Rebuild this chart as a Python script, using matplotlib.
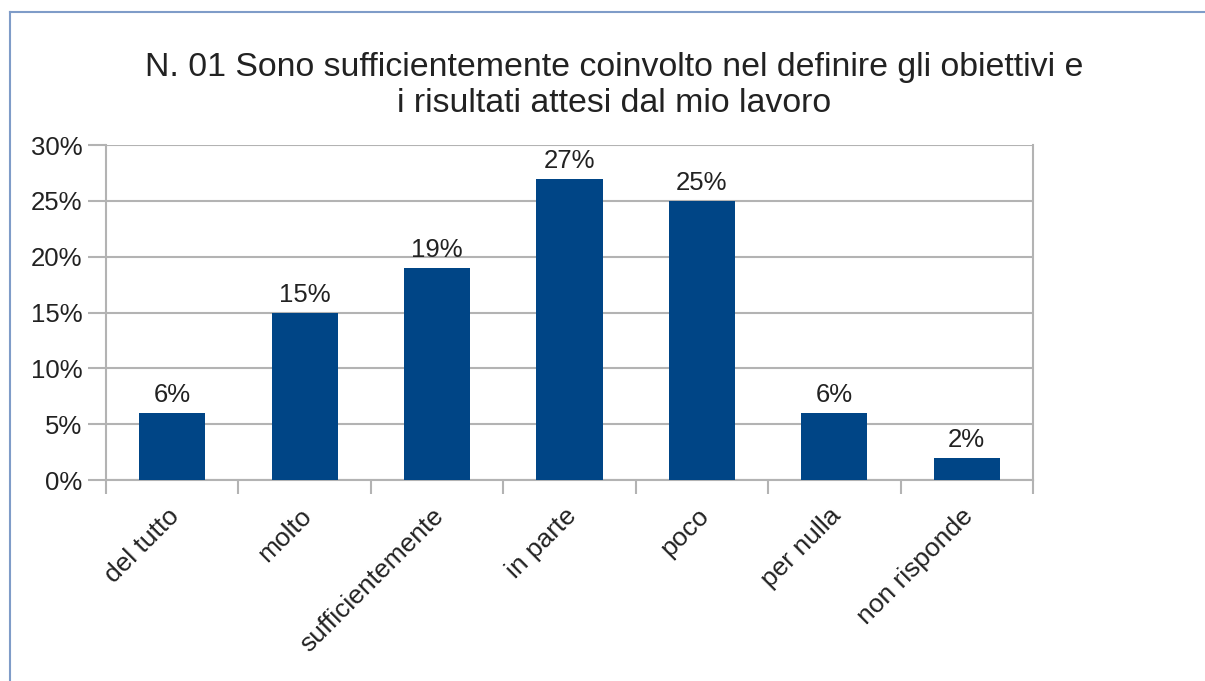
import matplotlib.pyplot as plt
import matplotlib.ticker as ticker
from matplotlib.lines import Line2D

categories = ["del tutto", "molto", "sufficientemente", "in parte", "poco", "per nulla", "non risponde"]
values = [6, 15, 19, 27, 25, 6, 2]
title = "N. 01 Sono sufficientemente coinvolto nel definire gli obiettivi e\ni risultati attesi dal mio lavoro"

plt.rcParams['font.family'] = ['Liberation Sans', 'DejaVu Sans']

fig = plt.figure(figsize=(12.05, 6.81), dpi=100)
ax = fig.add_axes([106/1205, 1-480/681, (1033-106)/1205, (480-145)/681])

x = list(range(len(categories)))
bars = ax.bar(x, values, width=0.5, color="#004586", zorder=3)
for xi, v in zip(x, values):
    ax.text(xi, v + 0.5, f"{v}%", ha="center", va="bottom", fontsize=18.5, color="#222222")

ax.set_xlim(-0.5, len(categories) - 0.5)
ax.set_ylim(0, 30)
ax.yaxis.set_major_locator(ticker.MultipleLocator(5))
ax.yaxis.set_major_formatter(ticker.FuncFormatter(lambda v, p: f"{int(v)}%"))
ax.grid(axis="y", color="#b3b3b3", linewidth=1.5, zorder=0)

# category separators as tick marks under the axis
ax.set_xticks([i - 0.5 for i in range(len(categories) + 1)])
ax.set_xticklabels([])
ax.tick_params(axis="x", length=10, width=1.5, color="#b3b3b3", direction="out")
ax.tick_params(axis="y", length=13, width=1.5, color="#b3b3b3", labelsize=18.5, pad=4,
               labelcolor="#222222")
for xi, c in zip(x, categories):
    ax.annotate(c, xy=(xi, 0), xycoords=("data", "axes fraction"), xytext=(-4, -17),
                textcoords="offset points", rotation=45, ha="right", va="top",
                rotation_mode="anchor", fontsize=19, color="#222222")

for s in ["left", "right", "bottom"]:
    ax.spines[s].set_color("#b3b3b3")
    ax.spines[s].set_linewidth(1.5)
ax.spines["top"].set_visible(False)

fig.text(614/1205, 1-52/681, title, ha="center", va="top", fontsize=24.4,
         color="#222222", linespacing=1.2)

# outer frame of the chart object
fig.add_artist(Line2D([10/1205, 10/1205], [0, 1-12/681], color="#7f9cc8", linewidth=1.5))
fig.add_artist(Line2D([10/1205, 1], [1-12/681, 1-12/681], color="#7f9cc8", linewidth=1.5))

fig.savefig("out.png", dpi=100)
